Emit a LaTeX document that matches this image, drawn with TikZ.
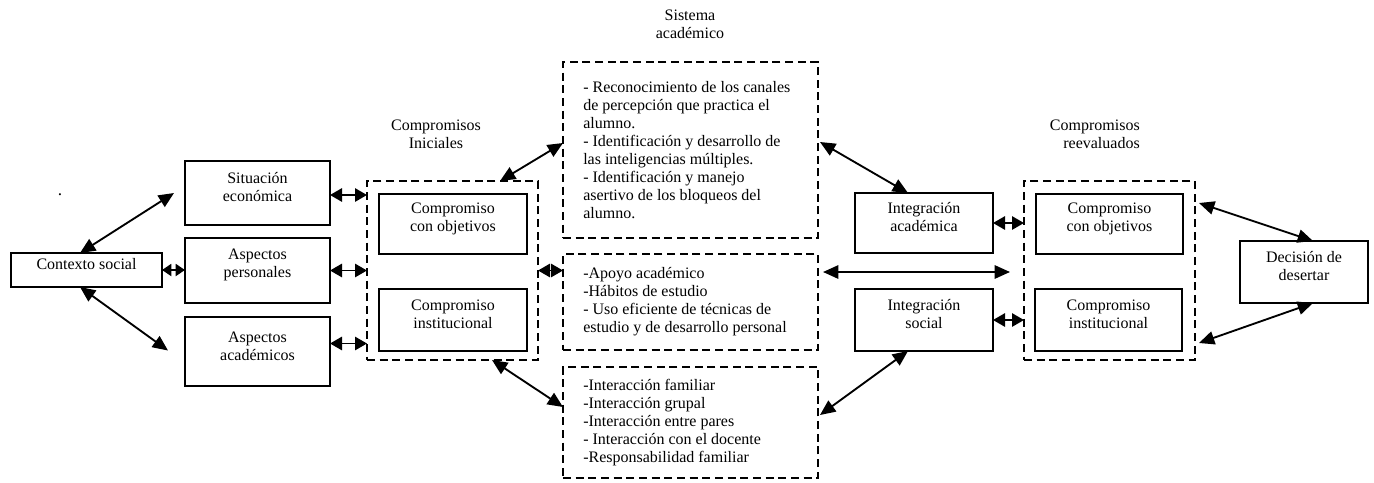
\documentclass[tikz,border=0pt]{standalone}
\usepackage{fontspec}
\setmainfont{Liberation Serif}
\usetikzlibrary{arrows.meta,calc,fit}
\begin{document}
\begin{tikzpicture}[x=0.75pt,y=-0.75pt,
  font=\fontsize{12}{13.5}\selectfont,
  sbox/.style={draw,line width=1pt,inner sep=0pt,outer sep=0pt,align=center},
  dbox/.style={draw,line width=1pt,dash pattern=on 6pt off 3.5pt,inner sep=0pt,outer sep=0pt},
  lbl/.style={inner sep=0pt},
  arr/.style={<->,>={Triangle[length=11.5pt,width=10pt]},line width=1.4pt},
  sarr/.style={<->,>={Triangle[length=9pt,width=10pt]},line width=1.4pt},
  tarr/.style={<->,>={Triangle[length=7pt,width=9pt]},line width=1.4pt}]
\useasboundingbox (0,0) rectangle (1374,482);

% left column
\node[lbl,font=\fontsize{13}{14}\selectfont] (dot) at (60,195) {.};
\node[sbox,fit={(11,253)(162,287)}] (ctx) {Contexto social};
\node[sbox,fit={(185,161)(330,225)}] (sit) {Situación\\económica};
\node[sbox,fit={(185,238)(330,303)}] (per) {Aspectos\\personales};
\node[sbox,fit={(185,317)(330,386)}] (aca) {Aspectos\\académicos};

% compromisos iniciales
\node[lbl,align=center] (lini) at (436,134) {Compromisos\\Iniciales};
\node[dbox,fit={(367,181)(538,360)}] (ini) {};
\node[sbox,fit={(379,194)(527,254)}] (iniA) {Compromiso\\con objetivos};
\node[sbox,fit={(379,289)(527,351)}] (iniB) {Compromiso\\institucional};

% sistema academico
\node[lbl,align=center] (lsys) at (690,24) {Sistema\\académico};
\node[dbox,fit={(563,62)(818,238)}] (sys1) {};
\node[dbox,fit={(563,254)(818,350)}] (sys2) {};
\node[dbox,fit={(563,367)(818,478)}] (sys3) {};
\node[lbl,anchor=west,align=left] (t1) at (583,150) {- Reconocimiento de los canales\\de percepción que practica el\\alumno.\\- Identificación y desarrollo de\\las inteligencias múltiples.\\- Identificación y manejo\\asertivo de los bloqueos del\\alumno.};
\node[lbl,anchor=west,align=left] (t2) at (583,302) {-Apoyo académico\\-Hábitos de estudio\\- Uso eficiente de técnicas de\\estudio y de desarrollo personal};
\node[lbl,anchor=west,align=left] (t3) at (583,423) {-Interacción familiar\\-Interacción grupal\\-Interacción entre pares\\ - Interacción con el docente\\-Responsabilidad familiar};

% integracion
\node[sbox,fit={(855,193)(993,253)}] (intA) {Integración\\académica};
\node[sbox,fit={(855,289)(993,351)}] (intS) {Integración\\social};

% compromisos reevaluados
\node[lbl,align=right,anchor=east] (lree) at (1140,134) {Compromisos\\reevaluados};
\node[dbox,fit={(1024,181)(1195,360)}] (reev) {};
\node[sbox,fit={(1036,194)(1183,254)}] (reA) {Compromiso\\con objetivos};
\node[sbox,fit={(1035,289)(1182,351)}] (reB) {Compromiso\\institucional};

% decision
\node[sbox,fit={(1240,241)(1368,303)}] (dec) {Decisión de\\desertar};

% connectors
\draw[arr] ($(ctx.north west)+(69,0)$) -- ($(sit.west)+(-11,0)$);
\draw[arr] ($(ctx.south west)+(69,0)$) -- ($(aca.west)+(-17,-1)$);
\draw[tarr] (ctx.east) -- (ctx.east -| per.west);
\draw[sarr] ($(sit.east)+(0,2)$) -- ($(sit.east -| ini.west)+(0,2)$);
\draw[sarr] (per.east) -- (per.east -| ini.west);
\draw[sarr] ($(aca.east)+(0,-8)$) -- ($(aca.east -| ini.west)+(0,-8)$);

\draw[arr] ($(ini.north east)+(-38,0)$) -- ($(sys1.north west)+(0,81)$);
\draw[arr] ($(ini.south east)+(-46,0)$) -- ($(sys3.north west)+(0,40)$);
\draw[sarr] (ini.east) -- (ini.east -| sys2.west);

\draw[arr] ($(sys1.north east)+(2,80)$) -- ($(intA.north west)+(53,0)$);
\draw[arr] ($(sys2.north east)+(5,18)$) -- ($(reev.west |- sys2.north)+(-14,18)$);
\draw[arr] ($(intS.south west)+(53,0)$) -- ($(sys3.north east)+(2,48)$);
\draw[sarr] (intA.east) -- (intA.east -| reev.west);
\draw[sarr] (intS.east) -- (intS.east -| reev.west);

\draw[arr] ($(reev.north east)+(4,22)$) -- ($(dec.north west)+(73,0)$);
\draw[arr] ($(reev.south east)+(4,-17)$) -- ($(dec.south west)+(73,0)$);
\end{tikzpicture}
\end{document}
